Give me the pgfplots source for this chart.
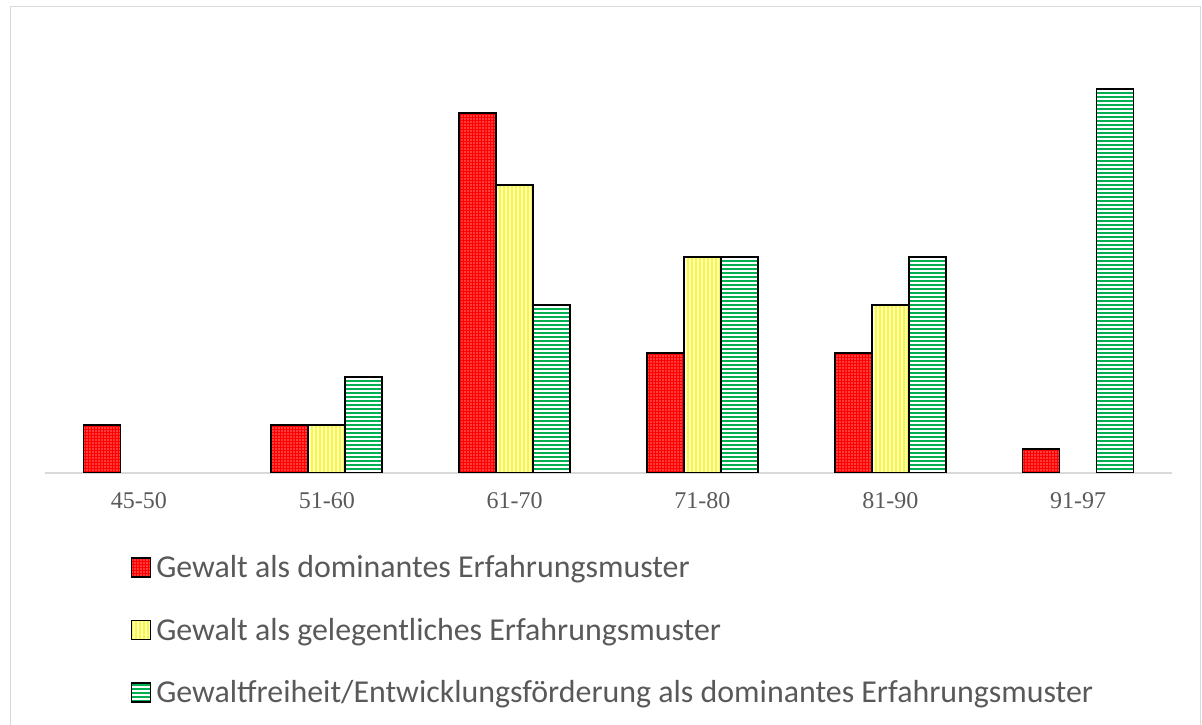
\documentclass[border=0pt]{standalone}
\usepackage{fontspec}
\usepackage{pgfplots}
\pgfplotsset{compat=1.18}
\usetikzlibrary{patterns.meta}
\setmainfont{Liberation Serif}
\newfontfamily\carlito{Carlito}
\definecolor{txtgray}{HTML}{595959}
\definecolor{lgray}{HTML}{D9D9D9}
\definecolor{cgreen}{HTML}{00B050}
\definecolor{cred}{HTML}{FF0000}
\definecolor{cyellow}{HTML}{FFFF00}

\begin{document}
\begin{tikzpicture}[x=1bp,y=1bp]
\path[use as bounding box] (0,0) rectangle (1202,725);
\draw[lgray, line width=1bp] (10,-10) -- (10,718) -- (1200,718) -- (1200,-10);
\begin{axis}[
  at={(45bp,252bp)}, anchor=south west,
  scale only axis, width=1127bp, height=432bp,
  xmin=-0.5, xmax=5.5, ymin=0, ymax=18,
  axis x line*=bottom, axis y line=none,
  x axis line style={lgray, line width=1.3bp, -},
  xtick={0,...,5}, xticklabels={45-50,51-60,61-70,71-80,81-90,91-97},
  major tick length=0pt,
  xticklabel style={font=\fontsize{24bp}{28bp}\selectfont, text=txtgray, yshift=-16bp},
  ytick=\empty,
  ybar=0pt, bar width=37bp,
  legend image code/.code={\draw[#1, line width=1.4bp] (0bp,-9.5bp) rectangle (19bp,9.5bp);},
  legend cell align=left,
  legend style={draw=none, fill=none, inner sep=0pt, at={(0.076,-0.186)}, anchor=north west,
    font=\carlito\fontsize{31.9bp}{38bp}\selectfont, text=txtgray, row sep=35bp,
    /tikz/every odd column/.append style={column sep=3bp}},
]
\addplot[draw=black, line width=1.6bp, preaction={fill=cred},
  pattern={Dots[distance=3bp, radius=0.55bp]}, pattern color=white]
  coordinates {(0,2)(1,2)(2,15)(3,5)(4,5)(5,1)};
\addlegendentry{Gewalt als dominantes Erfahrungsmuster}
\addplot[draw=black, line width=1.6bp, preaction={fill=white},
  pattern={Lines[angle=90, distance=4bp, line width=2.4bp]}, pattern color=cyellow]
  coordinates {(1,2)(2,12)(3,9)(4,7)};
\addlegendentry{Gewalt als gelegentliches Erfahrungsmuster}
\addplot[draw=black, line width=1.6bp, preaction={fill=white},
  pattern={Lines[angle=0, distance=4bp, line width=2bp]}, pattern color=cgreen]
  coordinates {(1,4)(2,7)(3,9)(4,9)(5,16)};
\addlegendentry{Gewaltfreiheit/Entwicklungsförderung als dominantes Erfahrungsmuster}
\end{axis}
\end{tikzpicture}
\end{document}
